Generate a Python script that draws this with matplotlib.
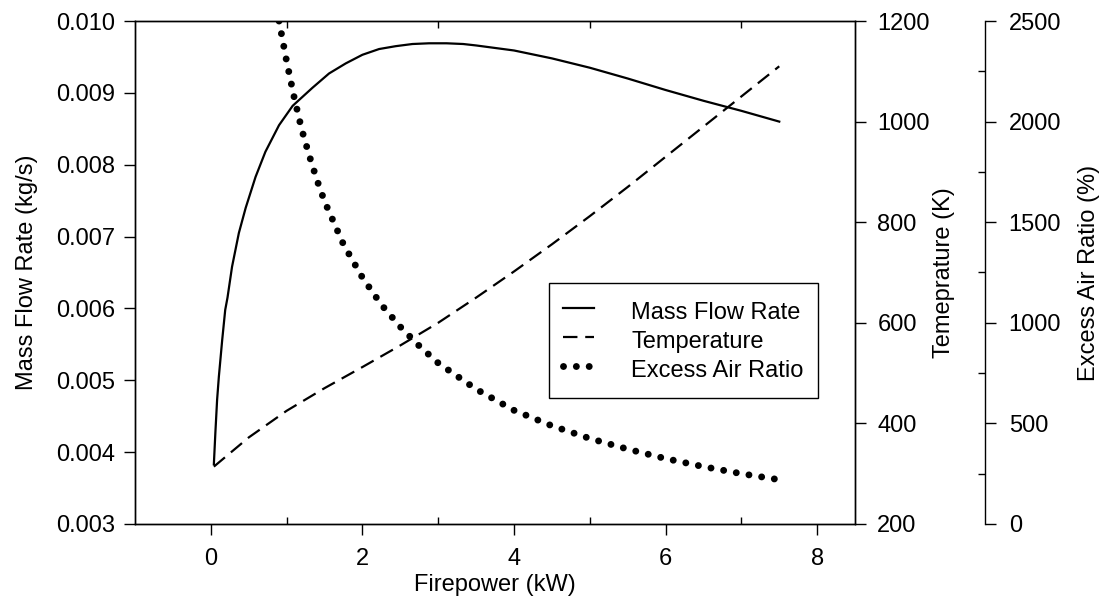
import numpy as np
import matplotlib
matplotlib.use('Agg')
import matplotlib.pyplot as plt

plt.rcParams['font.family'] = ['Liberation Sans', 'DejaVu Sans']
plt.rcParams['font.size'] = 17

# mass flow rate (kg/s) vs firepower (kW)
mfr_x = [0.04, 0.06, 0.083, 0.106, 0.15, 0.19, 0.22, 0.28, 0.37, 0.46, 0.59,
         0.72, 0.9, 1.08, 1.34, 1.56, 1.78, 2.0, 2.22, 2.44, 2.66, 2.88, 3.11,
         3.33, 3.5, 4.0, 4.5, 5.0, 5.5, 6.0, 6.5, 7.0, 7.5]
mfr_y = [0.00383, 0.00427, 0.00473, 0.00505, 0.00556, 0.00598, 0.00615,
         0.00658, 0.00705, 0.00740, 0.00783, 0.00818, 0.00855, 0.00882,
         0.00907, 0.00927, 0.00941, 0.00953, 0.00961, 0.00965, 0.00968,
         0.00969, 0.00969, 0.00968, 0.00966, 0.00959, 0.00948, 0.00935,
         0.00920, 0.00904, 0.00889, 0.00875, 0.00860]

# temperature (K)
temp_x = [0.04, 0.5, 1.0, 1.5, 2.0, 2.5, 3.0, 3.5, 4.0, 4.5, 5.0, 5.5, 6.0,
          6.5, 7.0, 7.5]
temp_y = [314, 372, 425, 470, 512, 555, 600, 650, 702, 756, 812, 870, 930,
          990, 1050, 1110]

# excess air ratio (%)
ear_x = [0.9, 1.0, 1.1, 1.2, 1.3, 1.4, 1.5, 1.75, 2.0, 2.25, 2.5, 2.75, 3.0,
         3.5, 4.0, 4.5, 5.0, 5.5, 6.0, 6.5, 7.0, 7.5]
ear_y = [2500, 2300, 2120, 1960, 1830, 1710, 1604, 1390, 1225, 1090, 980,
         885, 800, 670, 565, 488, 425, 372, 325, 285, 250, 220]

fig = plt.figure(figsize=(11.05, 6.04), dpi=100)
ax = fig.add_axes([0.1222, 0.1325, 0.6516, 0.8327])
ax2 = ax.twinx()
ax3 = ax.twinx()
ax3.spines['right'].set_position(('axes', 1.1806))
for s in ['top', 'left', 'bottom']:
    ax3.spines[s].set_visible(False)

l1, = ax.plot(mfr_x, mfr_y, 'k-', lw=1.6, label='Mass Flow Rate')
l2, = ax2.plot(temp_x, temp_y, color='k', lw=1.6, dashes=[6.5, 3.5],
               label='Temperature')
l3, = ax3.plot(ear_x, ear_y, color='k', lw=5, linestyle=(0, (0.001, 1.85)),
               dash_capstyle='round', label='Excess Air Ratio')

ax.set_xlim(-1, 8.5)
ax.set_ylim(0.003, 0.010)
ax2.set_ylim(200, 1200)
ax3.set_ylim(0, 2500)

ax.set_xticks([0, 2, 4, 6, 8])
ax.set_xticks([1, 3, 5, 7], minor=True)
ax.set_yticks(np.arange(0.003, 0.0105, 0.001))
ax.set_yticklabels(['%.3f' % v for v in np.arange(0.003, 0.0105, 0.001)])
ax2.set_yticks(np.arange(200, 1201, 200))
ax3.set_yticks(np.arange(0, 2501, 500))
ax3.set_yticks(np.arange(250, 2500, 500), minor=True)

ax.tick_params(axis='x', which='major', direction='out', length=8, width=1,
               pad=9.5, top=False)
ax.tick_params(axis='x', which='minor', direction='in', length=5, width=1,
               top=True, bottom=True)
ax.tick_params(axis='y', which='major', direction='out', length=8, width=1,
               pad=6.5)
ax2.tick_params(axis='y', which='major', direction='out', length=8, width=1,
                pad=8)
ax3.tick_params(axis='y', which='major', direction='out', length=8, width=1,
                pad=9)
ax3.tick_params(axis='y', which='minor', direction='in', length=5, width=1)

for a in (ax, ax2, ax3):
    for s in a.spines.values():
        s.set_linewidth(1)

ax.set_xlabel('Firepower (kW)', labelpad=3)
ax.set_ylabel('Mass Flow Rate (kg/s)', labelpad=13)
ax2.set_ylabel('Temeprature (K)', labelpad=2)
ax3.set_ylabel('Excess Air Ratio (%)', labelpad=12)

leg = ax3.legend(handles=[l1, l2, l3], loc='upper right',
                 bbox_to_anchor=(0.9486, 0.479), borderaxespad=0,
                 fancybox=False, framealpha=1, edgecolor='k',
                 handlelength=1.3, handleheight=1.5, handletextpad=1.6,
                 labelspacing=0, borderpad=0.6, fontsize=17)
leg.get_frame().set_linewidth(1)

fig.savefig('out.png', dpi=100)
